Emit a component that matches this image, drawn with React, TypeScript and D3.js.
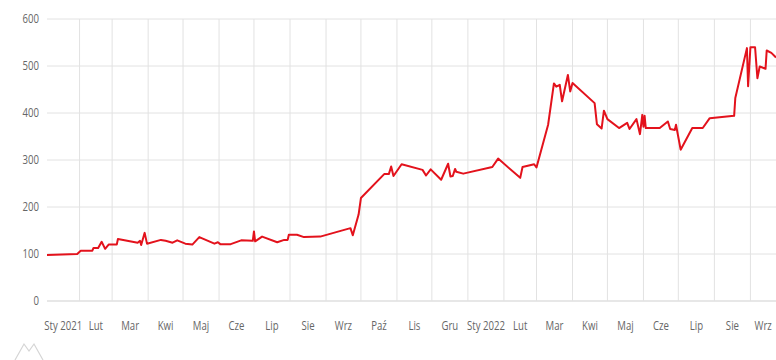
import React from "react";
import * as d3 from "d3";

const dates: string[] = [
  "2021-01-04","2021-01-30","2021-02-02","2021-02-12","2021-02-13","2021-02-17","2021-02-20","2021-02-23","2021-02-26","2021-03-05",
  "2021-03-06","2021-03-23","2021-03-25","2021-03-26","2021-03-29","2021-03-31","2021-04-12","2021-04-16","2021-04-22","2021-04-26",
  "2021-05-03","2021-05-09","2021-05-15","2021-05-28","2021-05-31","2021-06-02","2021-06-11","2021-06-20","2021-06-30","2021-07-01",
  "2021-07-02","2021-07-08","2021-07-21","2021-07-27","2021-07-30","2021-07-31","2021-08-07","2021-08-13","2021-08-27","2021-09-22",
  "2021-09-24","2021-09-29","2021-10-01","2021-10-21","2021-10-25","2021-10-27","2021-10-29","2021-11-05","2021-11-23","2021-11-26",
  "2021-11-30","2021-12-09","2021-12-15","2021-12-17","2021-12-19","2021-12-21","2021-12-22","2021-12-28","2022-01-22","2022-01-27",
  "2022-02-15","2022-02-17","2022-02-27","2022-03-01","2022-03-11","2022-03-16","2022-03-18","2022-03-21","2022-03-23","2022-03-28",
  "2022-03-30","2022-04-01","2022-04-20","2022-04-22","2022-04-26","2022-04-28","2022-05-01","2022-05-11","2022-05-18","2022-05-20",
  "2022-05-26","2022-05-29","2022-05-31","2022-06-01","2022-06-02","2022-06-03","2022-06-15","2022-06-22","2022-06-24","2022-06-28",
  "2022-06-29","2022-07-03","2022-07-13","2022-07-22","2022-07-28","2022-08-18","2022-08-19","2022-08-29","2022-08-30","2022-09-01",
  "2022-09-05","2022-09-07","2022-09-09","2022-09-14","2022-09-15","2022-09-19","2022-09-23"
];

const values: number[] = [
  98,100,107,107,113,113,126,111,120,120,
  132,124,128,119,145,122,130,128,124,129,
  122,120,136,122,125,121,121,129,128,148,
  127,137,125,130,130,141,141,136,137,155,
  140,184,219,270,270,286,266,291,279,267,
  280,258,292,265,266,281,275,271,285,303,
  262,285,291,284,375,463,456,460,425,481,
  446,464,421,376,367,405,387,368,379,366,
  387,355,396,371,394,368,368,382,366,364,
  375,322,368,368,389,394,432,538,457,540,
  540,474,499,494,533,528,518
];

const yTicks: number[] = [0, 100, 200, 300, 400, 500, 600];
const monthNames: string[] = ["Sty","Lut","Mar","Kwi","Maj","Cze","Lip","Sie","Wrz","Paź","Lis","Gru"];

const W = 776;
const H = 360;
const M = { left: 47, right: 776, top: 19, bottom: 301 };

export default function App() {
  const parse = d3.timeParse("%Y-%m-%d");
  const data = dates.map((d, i) => ({ date: parse(d) as Date, value: values[i] }));
  const [start, end] = d3.extent(data, (d) => d.date) as [Date, Date];

  const x = d3.scaleTime().domain([start, end]).range([M.left, M.right]);
  const y = d3.scaleLinear().domain([0, 600]).range([M.bottom, M.top]);

  const line = d3
    .line<{ date: Date; value: number }>()
    .x((d) => x(d.date))
    .y((d) => y(d.value));

  const monthStarts = d3.timeMonth.range(d3.timeMonth.ceil(start), end);
  const months = d3.timeMonth.range(d3.timeMonth.floor(start), end);

  const font = "'Open Sans', sans-serif";
  const sx = 0.8;

  return (
    <div>
      <style>{"body{margin:0}"}</style>
      <svg width={W} height={H} style={{ display: "block", background: "#fff" }}>
        {yTicks.map((t) => (
          <line key={"h" + t} x1={M.left} x2={M.right} y1={y(t)} y2={y(t)} stroke={t === 0 ? "#cfcfcf" : "#e2e2e2"} strokeWidth={1} />
        ))}
        {monthStarts.map((m) => (
          <line key={"v" + m.getTime()} x1={x(m)} x2={x(m)} y1={M.top} y2={M.bottom} stroke="#e2e2e2" strokeWidth={1} />
        ))}
        {yTicks.map((t) => (
          <text
            key={"yl" + t}
            transform={`translate(39,${y(t) + 4}) scale(${sx},1)`}
            textAnchor="end"
            fontFamily={font}
            fontSize={12}
            fill="#666"
          >
            {t}
          </text>
        ))}
        {months.map((m) => {
          const a = Math.max(x(m), M.left);
          const b = Math.min(x(d3.timeMonth.offset(m, 1)), M.right);
          const label = m.getMonth() === 0 ? `${monthNames[0]} ${m.getFullYear()}` : monthNames[m.getMonth()];
          return (
            <text
              key={"xl" + m.getTime()}
              transform={`translate(${(a + b) / 2},330) scale(${sx},1)`}
              textAnchor="middle"
              fontFamily={font}
              fontSize={12}
              fill="#666"
            >
              {label}
            </text>
          );
        })}
        <path d={line(data) || ""} fill="none" stroke="#e3121c" strokeWidth={2} strokeLinejoin="round" />
        <path d="M15,360 L24,344 L29,351 L34,344 L43,360" fill="none" stroke="#d5d5d5" strokeWidth={1.2} />
      </svg>
    </div>
  );
}
